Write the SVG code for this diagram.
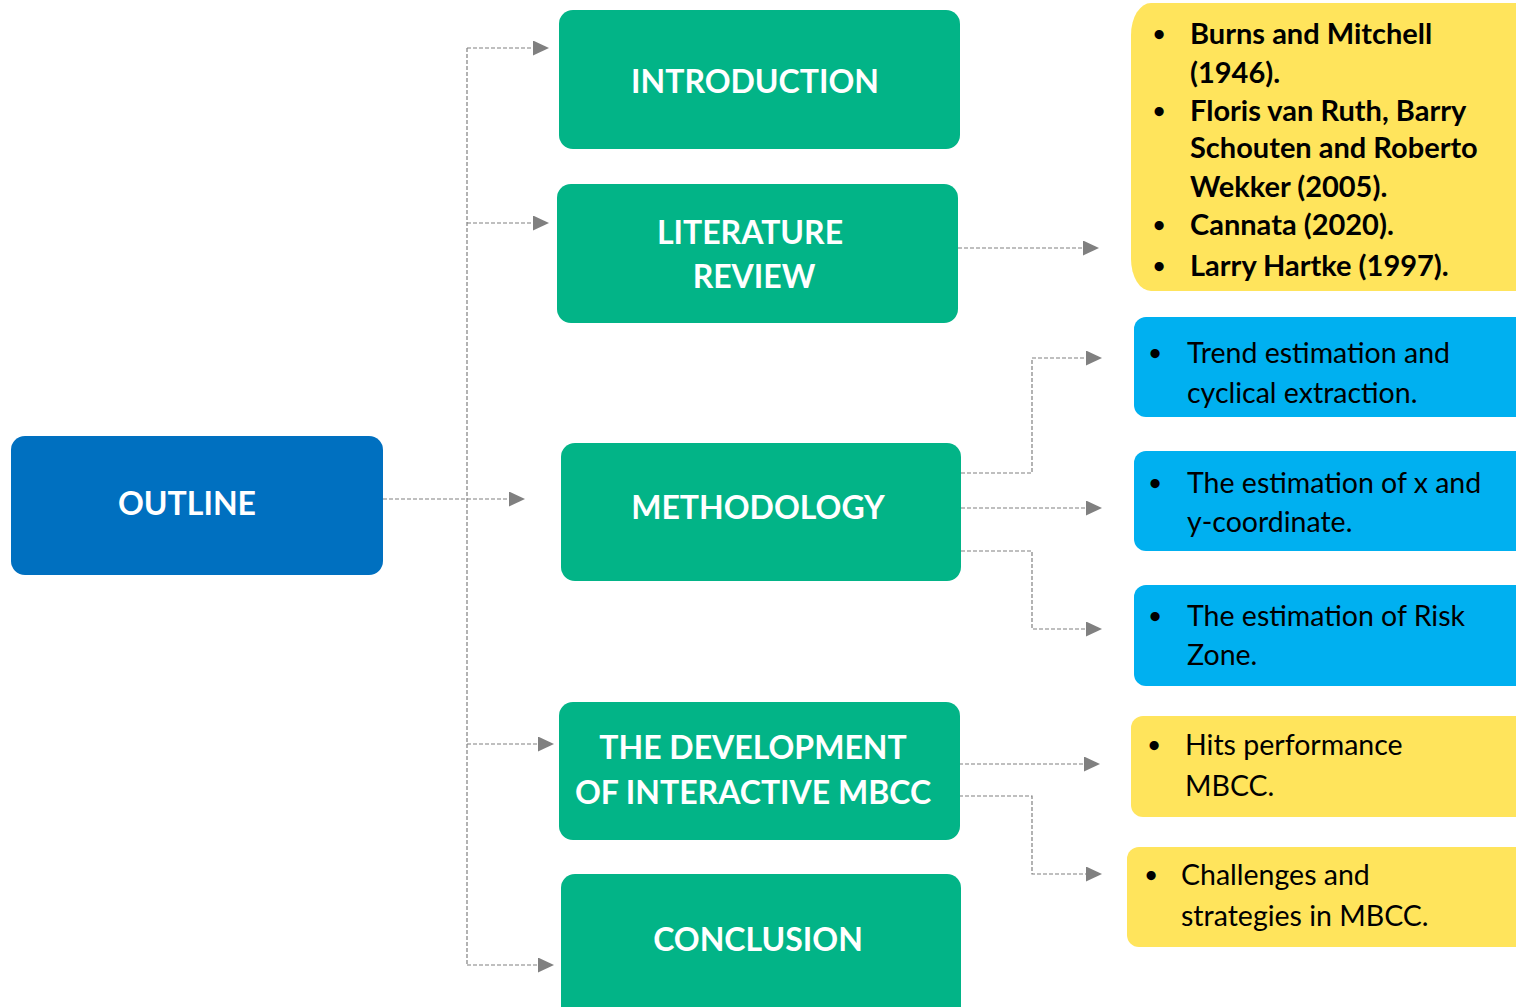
<svg xmlns="http://www.w3.org/2000/svg" width="1516" height="1007" viewBox="0 0 1516 1007">
  <defs>
    <marker id="arrow" viewBox="0 0 16 15" refX="0" refY="7.5" markerWidth="16" markerHeight="15" markerUnits="userSpaceOnUse" orient="auto">
      <path d="M0,0 L16,7.5 L0,15 Z" fill="#808080"/>
    </marker>
    <style>
      .main { fill: #02B487; }
      .root { fill: #0070C0; }
      .blue { fill: #00B0F0; }
      .yellow { fill: #FFE45C; }
      .title { font-family: Lato, "Open Sans", sans-serif; font-weight: 700; font-size: 32px; fill: #FFFFFF; text-anchor: middle; }
      .bold { font-family: Lato, "Open Sans", sans-serif; font-weight: 700; font-size: 29px; fill: #000000; }
      .reg { font-family: Lato, "Open Sans", sans-serif; font-weight: 400; font-size: 28.5px; fill: #000000; }
      .dot { font-family: Lato, "Open Sans", sans-serif; font-weight: 700; font-size: 21px; fill: #000000; text-anchor: middle; }
      .link { fill: none; stroke: #808080; stroke-width: 1.2; stroke-dasharray: 4 2; marker-end: url(#arrow); }
      .trunk { fill: none; stroke: #808080; stroke-width: 1.2; stroke-dasharray: 4 2; }
    </style>
  </defs>

  <rect width="1516" height="1007" fill="#FFFFFF"/>

  <!-- connectors -->
  <g id="connectors">
    <path class="trunk" d="M467,48 V965"/>
    <path class="link" d="M383,499 H509"/>
    <path class="link" d="M467,48 H533"/>
    <path class="link" d="M467,223 H533"/>
    <path class="link" d="M467,744 H538"/>
    <path class="link" d="M467,965 H538"/>
    <path class="link" d="M958,248 H1083"/>
    <path class="link" d="M961,473 H1032 V358 H1086"/>
    <path class="link" d="M961,508 H1086"/>
    <path class="link" d="M961,551 H1032 V629 H1086"/>
    <path class="link" d="M959,764 H1084"/>
    <path class="link" d="M959,796 H1032 V874 H1086"/>
  </g>

  <!-- root -->
  <g id="outline">
    <rect class="root" x="11" y="436" width="372" height="139" rx="14"/>
    <text class="title" x="187" y="515">OUTLINE</text>
  </g>

  <!-- sections -->
  <g id="introduction">
    <rect class="main" x="559" y="10" width="401" height="139" rx="14"/>
    <text class="title" x="755" y="93">INTRODUCTION</text>
  </g>
  <g id="literature-review">
    <rect class="main" x="557" y="184" width="401" height="139" rx="14"/>
    <text class="title" x="750" y="244">LITERATURE</text>
    <text class="title" x="754" y="288">REVIEW</text>
  </g>
  <g id="methodology">
    <rect class="main" x="561" y="443" width="400" height="138" rx="14"/>
    <text class="title" x="758" y="519">METHODOLOGY</text>
  </g>
  <g id="development">
    <rect class="main" x="559" y="702" width="401" height="138" rx="14"/>
    <text class="title" x="753" y="759">THE DEVELOPMENT</text>
    <text class="title" x="753" y="804">OF INTERACTIVE MBCC</text>
  </g>
  <g id="conclusion">
    <rect class="main" x="561" y="874" width="400" height="160" rx="14"/>
    <text class="title" x="758" y="951">CONCLUSION</text>
  </g>

  <!-- references -->
  <g id="references">
    <rect class="yellow" x="1131" y="3" width="420" height="288" rx="20" ry="32"/>
    <text class="dot" x="1159" y="41">•</text>
    <text class="bold" x="1190" y="44">Burns and Mitchell</text>
    <text class="bold" x="1190" y="83">(1946).</text>
    <text class="dot" x="1159" y="118">•</text>
    <text class="bold" x="1190" y="121">Floris van Ruth, Barry</text>
    <text class="bold" x="1190" y="158">Schouten and Roberto</text>
    <text class="bold" x="1190" y="197">Wekker (2005).</text>
    <text class="dot" x="1159" y="232">•</text>
    <text class="bold" x="1190" y="235">Cannata (2020).</text>
    <text class="dot" x="1159" y="273">•</text>
    <text class="bold" x="1190" y="276">Larry Hartke (1997).</text>
  </g>

  <!-- methodology details -->
  <g id="trend">
    <rect class="blue" x="1134" y="317" width="420" height="100" rx="12"/>
    <text class="dot" x="1155" y="360">•</text>
    <text class="reg" x="1187" y="363">Trend estimation and</text>
    <text class="reg" x="1187" y="403">cyclical extraction.</text>
  </g>
  <g id="coordinates">
    <rect class="blue" x="1134" y="451" width="420" height="100" rx="12"/>
    <text class="dot" x="1155" y="490">•</text>
    <text class="reg" x="1187" y="493">The estimation of x and</text>
    <text class="reg" x="1187" y="532">y-coordinate.</text>
  </g>
  <g id="risk-zone">
    <rect class="blue" x="1134" y="585" width="420" height="101" rx="12"/>
    <text class="dot" x="1155" y="623">•</text>
    <text class="reg" x="1187" y="626">The estimation of Risk</text>
    <text class="reg" x="1187" y="665">Zone.</text>
  </g>

  <!-- development details -->
  <g id="hits">
    <rect class="yellow" x="1131" y="716" width="420" height="101" rx="12"/>
    <text class="dot" x="1154" y="752">•</text>
    <text class="reg" x="1185" y="755">Hits performance</text>
    <text class="reg" x="1185" y="796">MBCC.</text>
  </g>
  <g id="challenges">
    <rect class="yellow" x="1127" y="847" width="420" height="100" rx="12"/>
    <text class="dot" x="1151" y="882">•</text>
    <text class="reg" x="1181" y="885">Challenges and</text>
    <text class="reg" x="1181" y="926">strategies in MBCC.</text>
  </g>
</svg>
